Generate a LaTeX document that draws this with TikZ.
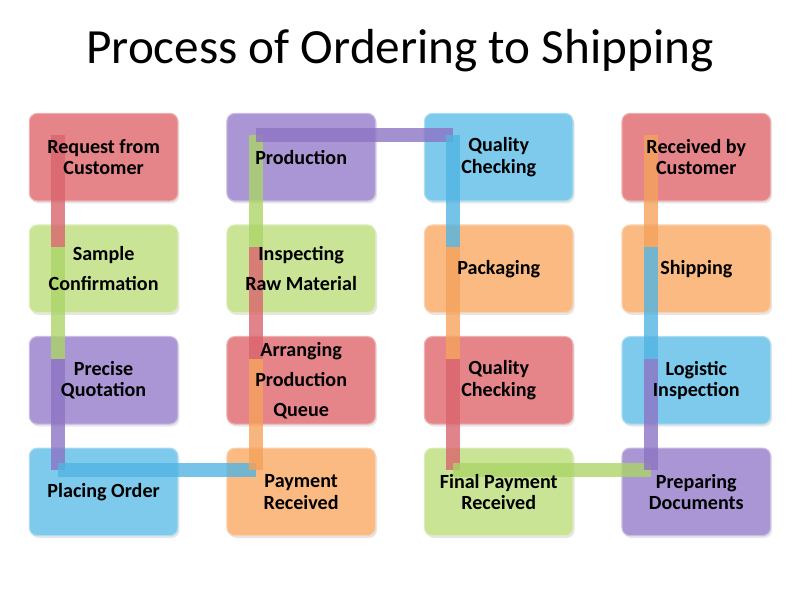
\documentclass[tikz,border=0pt]{standalone}
\usepackage{fontspec}
\setmainfont{Carlito}
\usetikzlibrary{positioning,calc,shadows}

\definecolor{boxred}{RGB}{229,132,137}
\definecolor{boxgreen}{RGB}{201,228,148}
\definecolor{boxpurple}{RGB}{170,150,213}
\definecolor{boxblue}{RGB}{125,202,236}
\definecolor{boxorange}{RGB}{250,186,130}
\definecolor{linkred}{RGB}{218,100,110}
\definecolor{linkgreen}{RGB}{172,212,104}
\definecolor{linkpurple}{RGB}{140,116,196}
\definecolor{linkblue}{RGB}{82,180,226}
\definecolor{linkorange}{RGB}{246,162,92}

\pgfdeclarelayer{boxes}
\pgfdeclarelayer{bars}
\pgfsetlayers{boxes,bars,main}

\begin{document}
\begin{tikzpicture}[node distance=0.6cm and 1.225cm,
    stagebox/.style={minimum width=3.7cm,minimum height=2.175cm,align=center,
      font=\bfseries\fontsize{14.3}{15.3}\selectfont},
    spaced/.style={font=\bfseries\fontsize{14.3}{21.3}\selectfont},
    boxfill/.style={draw=#1!65!white,line width=0.8pt,fill=#1,rounded corners=0.2cm,
      drop shadow={opacity=0.2,shadow xshift=0.04cm,shadow yshift=-0.06cm}},
    link/.style={line width=0.35cm,draw=#1,draw opacity=0.8}]
  \useasboundingbox (0,0) rectangle (20,-15);
  \node[anchor=base,font=\fontsize{35}{42}\selectfont] (title) at (10,-1.575) {Process of Ordering to Shipping};
  % first column, top to bottom
  \node[stagebox] (req) at (2.59,-3.93) {Request from\\Customer};
  \node[stagebox,spaced,below=of req] (sample) {Sample\\Confirmation};
  \node[stagebox,below=of sample] (quote) {Precise\\Quotation};
  \node[stagebox,below=of quote] (order) {Placing Order};
  % second column, bottom to top
  \node[stagebox,right=of order] (payment) {Payment\\Received};
  \node[stagebox,spaced,above=of payment] (queue) {Arranging\\Production\\Queue};
  \node[stagebox,spaced,above=of queue] (inspect) {Inspecting\\Raw Material};
  \node[stagebox,above=of inspect] (production) {Production};
  % third column, top to bottom
  \node[stagebox,right=of production] (check) {Quality\\Checking};
  \node[stagebox,below=of check] (packing) {Packaging};
  \node[stagebox,below=of packing] (recheck) {Quality\\Checking};
  \node[stagebox,below=of recheck] (final) {Final Payment\\Received};
  % fourth column, bottom to top
  \node[stagebox,right=of final] (docs) {Preparing\\Documents};
  \node[stagebox,above=of docs] (logistic) {Logistic\\Inspection};
  \node[stagebox,above=of logistic] (shipping) {Shipping};
  \node[stagebox,above=of shipping] (received) {Received by\\Customer};
  % coloured boxes behind the text
  \begin{pgfonlayer}{boxes}
    \foreach \n/\c in {req/boxred,sample/boxgreen,quote/boxpurple,order/boxblue,
        payment/boxorange,queue/boxred,inspect/boxgreen,production/boxpurple,
        check/boxblue,packing/boxorange,recheck/boxred,final/boxgreen,
        docs/boxpurple,logistic/boxblue,shipping/boxorange,received/boxred}
      \path[boxfill=\c] (\n.south west) rectangle (\n.north east);
  \end{pgfonlayer}
  % joints of the bending bar
  \foreach \n in {req,sample,quote,order,payment,queue,inspect,production,check,packing,recheck,final,docs,logistic,shipping,received}
    \coordinate (\n-j) at ($(\n.north west)+(0.725,-0.55)$);
  \begin{pgfonlayer}{bars}
    \draw[link=linkred] (req-j) -- (sample-j);
    \draw[link=linkgreen] (sample-j) -- (quote-j);
    \draw[link=linkpurple] (quote-j) -- (order-j);
    \draw[link=linkblue] (order-j) -- (payment-j);
    \draw[link=linkorange] (payment-j) -- (queue-j);
    \draw[link=linkred] (queue-j) -- (inspect-j);
    \draw[link=linkgreen] (inspect-j) -- (production-j);
    \draw[link=linkpurple] (production-j) -- (check-j);
    \draw[link=linkblue] (check-j) -- (packing-j);
    \draw[link=linkorange] (packing-j) -- (recheck-j);
    \draw[link=linkred] (recheck-j) -- (final-j);
    \draw[link=linkgreen] (final-j) -- (docs-j);
    \draw[link=linkpurple] (docs-j) -- (logistic-j);
    \draw[link=linkblue] (logistic-j) -- (shipping-j);
    \draw[link=linkorange] (shipping-j) -- (received-j);
  \end{pgfonlayer}
\end{tikzpicture}
\end{document}
